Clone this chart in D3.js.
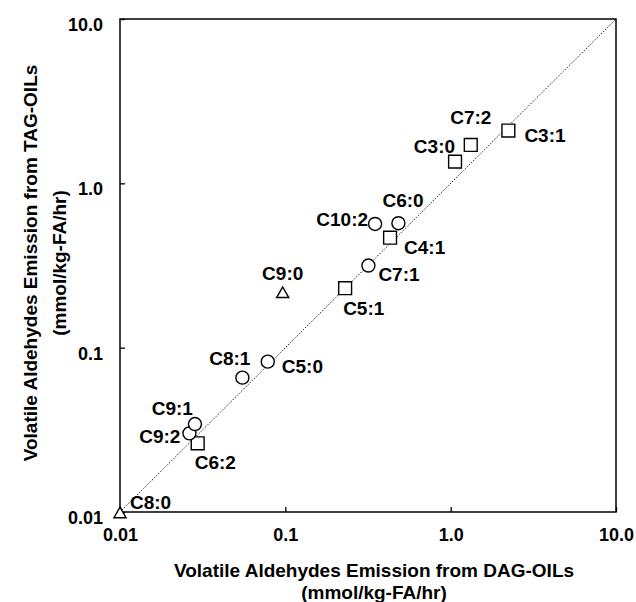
<!DOCTYPE html>
<html>
<head>
<meta charset="utf-8">
<script src="https://cdn.jsdelivr.net/npm/d3@7"></script>
<style>
  body { margin: 0; background: #fff; }
  text { font-family: "Liberation Sans", Arial, sans-serif; font-weight: bold; }
</style>
</head>
<body>
<div id="wrap"></div>
<script>
// 数据
const names = ["C8:0", "C6:2", "C9:2", "C9:1", "C8:1", "C5:0", "C9:0", "C5:1", "C7:1", "C4:1", "C10:2", "C6:0", "C3:0", "C7:2", "C3:1"];
const shapes = ["triangle", "square", "circle", "circle", "circle", "circle", "triangle", "square", "circle", "square", "circle", "circle", "square", "square", "square"];
const dagValues = [0.0100, 0.0295, 0.0263, 0.0284, 0.0550, 0.0783, 0.0964, 0.230, 0.318, 0.430, 0.349, 0.483, 1.063, 1.323, 2.234];
const tagValues = [0.0097, 0.0262, 0.0301, 0.0343, 0.0657, 0.0822, 0.212, 0.230, 0.316, 0.467, 0.566, 0.572, 1.356, 1.713, 2.094];
const tickValues = [0.01, 0.1, 1, 10];
const tickLabels = ["0.01", "0.1", "1.0", "10.0"];

// 标签偏移 [dx, dy, anchor]
const labelPos = [
  [10, -5, "start"], [-3, 26, "start"], [-9, 10, "end"], [-2, -9, "end"],
  [8, -13, "end"], [14, 11, "start"], [0, -14, "middle"], [-2, 27, "start"],
  [10, 15, "start"], [14, 16, "start"], [-7, 2, "end"], [-16, -16, "start"],
  [0, -9, "end"], [0, -21, "middle"], [16, 11, "start"]
];

const width = 636;
const height = 602;
const plot = { left: 120, right: 616, top: 19, bottom: 512 };

let svg = d3.select("#wrap")
  .append("svg")
  .attr("width", width)
  .attr("height", height);

let xScale = d3.scaleLog().domain([0.01, 10]).range([plot.left, plot.right]);
let yScale = d3.scaleLog().domain([0.01, 10]).range([plot.bottom, plot.top]);
const fmt = d => tickLabels[tickValues.indexOf(d)];

// 坐标轴
const xAxis = d3.axisBottom(xScale).tickValues(tickValues).tickFormat(fmt)
  .tickSize(-5).tickPadding(16);
const gx = svg.append("g").attr("transform", `translate(0,${plot.bottom})`).call(xAxis);
gx.select(".domain").remove();
gx.selectAll("text").attr("font-size", 18).attr("fill", "#000");
gx.selectAll("line").attr("stroke", "#000").attr("stroke-width", 1.3);

const yAxis = d3.axisLeft(yScale).tickValues(tickValues).tickFormat(fmt)
  .tickSize(-5).tickPadding(17);
const gy = svg.append("g").attr("transform", `translate(${plot.left},0)`).call(yAxis);
gy.select(".domain").remove();
gy.selectAll("text").attr("font-size", 18).attr("fill", "#000").attr("dy", "0.64em");
gy.selectAll("line").attr("stroke", "#000").attr("stroke-width", 1.3);

// 边框
svg.append("rect")
  .attr("x", plot.left).attr("y", plot.top)
  .attr("width", plot.right - plot.left).attr("height", plot.bottom - plot.top)
  .attr("fill", "none").attr("stroke", "#000").attr("stroke-width", 1.5);

// 1:1 线
svg.append("line")
  .attr("x1", xScale(0.01)).attr("y1", yScale(0.01))
  .attr("x2", xScale(10)).attr("y2", yScale(10))
  .attr("stroke", "#222").attr("stroke-width", 1)
  .attr("stroke-dasharray", "1.5,1.5");

const symType = { circle: d3.symbolCircle, square: d3.symbolSquare, triangle: d3.symbolTriangle };
const symSize = { circle: 133, square: 165, triangle: 64 };

const pts = names.map((n, i) => ({ name: n, shape: shapes[i], x: dagValues[i], y: tagValues[i], lp: labelPos[i] }));

svg.selectAll("path.pt")
  .data(pts)
  .enter()
  .append("path")
  .attr("class", "pt")
  .attr("transform", d => `translate(${xScale(d.x)},${yScale(d.y)})`)
  .attr("d", d => d3.symbol().type(symType[d.shape]).size(symSize[d.shape])())
  .attr("fill", "#fff")
  .attr("stroke", "#000")
  .attr("stroke-width", 1.4);

svg.selectAll("text.lbl")
  .data(pts)
  .enter()
  .append("text")
  .attr("class", "lbl")
  .attr("x", d => xScale(d.x) + d.lp[0])
  .attr("y", d => yScale(d.y) + d.lp[1])
  .attr("text-anchor", d => d.lp[2])
  .attr("font-size", 19)
  .text(d => d.name);

// 轴标题
const xt = svg.append("text").attr("text-anchor", "middle").attr("font-size", 19);
xt.append("tspan").attr("x", 374).attr("y", 577).text("Volatile Aldehydes Emission from DAG-OILs");
xt.append("tspan").attr("x", 374).attr("y", 599).text("(mmol/kg-FA/hr)");

const yt = svg.append("text").attr("text-anchor", "middle").attr("font-size", 19)
  .attr("transform", "translate(0,263) rotate(-90)");
yt.append("tspan").attr("x", 0).attr("y", 37).text("Volatile Aldehydes Emission from TAG-OILs");
yt.append("tspan").attr("x", 0).attr("y", 66).text("(mmol/kg-FA/hr)");
</script>
</body>
</html>
